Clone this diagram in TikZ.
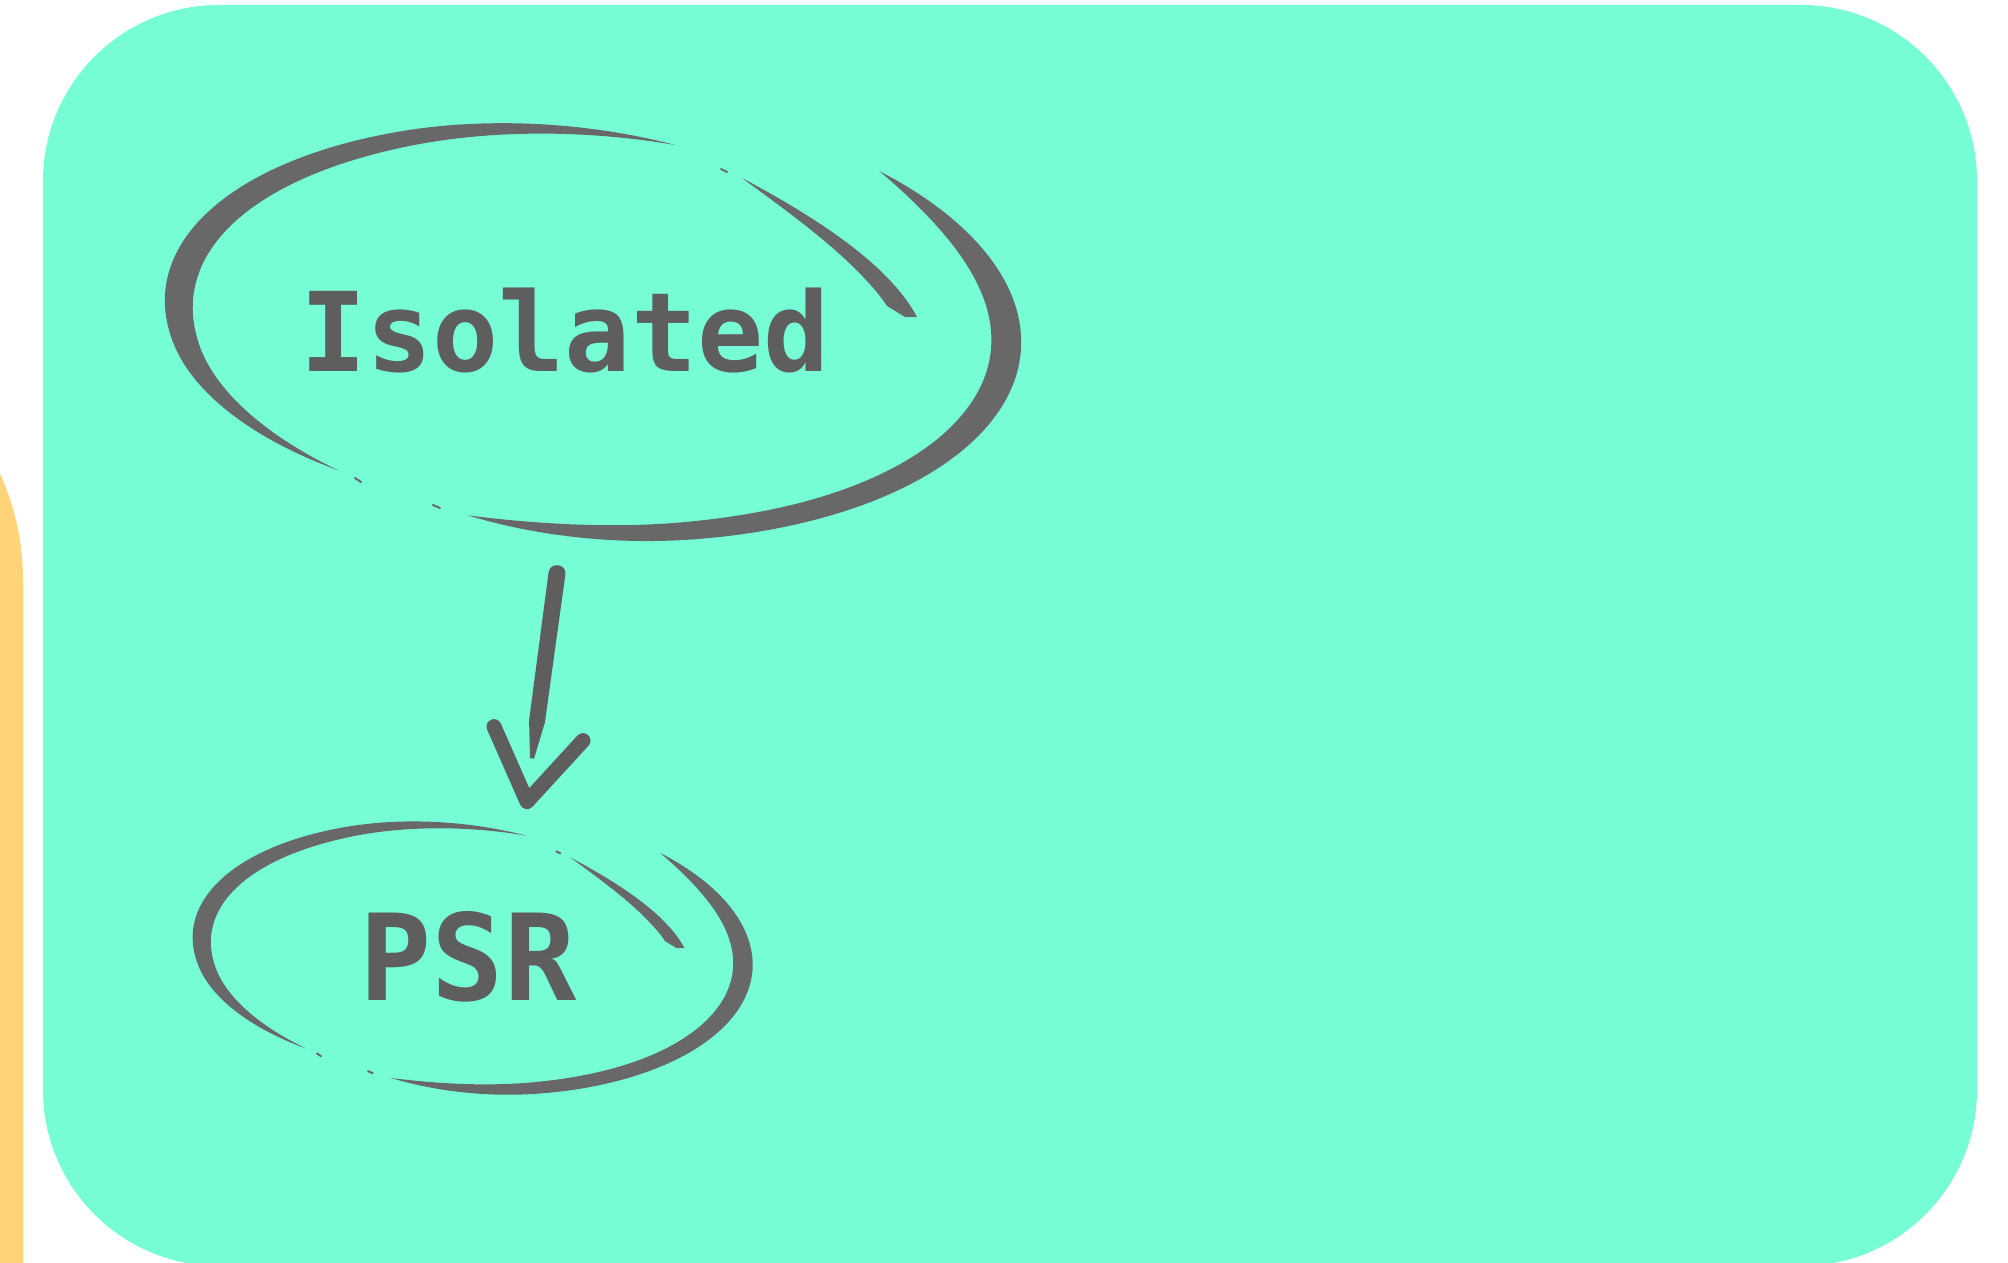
\documentclass[tikz,border=0pt]{standalone}
\usepackage{fontspec}
\newfontfamily\handfont{DejaVu Sans Mono}
\usetikzlibrary{calc,shapes.geometric}

\definecolor{mint}{RGB}{118,253,214}
\definecolor{amber}{RGB}{255,212,121}
\definecolor{ink}{RGB}{94,94,94}
\definecolor{ringgray}{RGB}{104,104,104}

\tikzset{
  % hand-drawn ring around (0,0): two tapered brush strokes and an inner hook
  pics/sketchring/.style={code={
    % left and top stroke
    \fill[ringgray]
      plot[domain=126:278.4, samples=100, variable=\q]
        ({3+ex(\q,axo(\q),bxo(\q),6)}, {3+ey(\q,axo(\q),bxo(\q),6)})
      -- plot[domain=278.4:126, samples=100, variable=\q]
        ({3+ex(\q,axi(\q),bxi(\q),6)}, {3+ey(\q,axi(\q),bxi(\q),6)})
      -- cycle;
    % right and bottom stroke
    \fill[ringgray]
      plot[domain=310:465.5, samples=100, variable=\q]
        ({ex(\q,cao(\q),cbo(\q),4)}, {-12+ey(\q,cao(\q),cbo(\q),4)})
      -- plot[domain=465.5:310, samples=100, variable=\q]
        ({ex(\q,cai(\q),cbi(\q),4)}, {-12+ey(\q,cai(\q),cbi(\q),4)})
      -- cycle;
    % inner hook
    \fill[ringgray] (150,-154) .. controls (210,-122) and (295,-72) .. (325,-15)
      -- (313,-15) -- (295,-26) -- (291,-32)
      .. controls (256,-78) and (196,-120) .. (150,-154) -- cycle;
    % specks left in the gaps
    \draw[ringgray, line width=1pt, line cap=round]
      (-237,146) -- (-231,150) (-159,173) -- (-152,176) (129,-163) -- (135,-160);
  }},
  label/.style={text=ink, inner sep=0pt, anchor=base},
  hidden/.style={ellipse, inner sep=0pt}
}

\begin{document}
\begin{tikzpicture}[x=0.5pt, y=-0.5pt,
  declare function={
    tp(\pos)=sin(180*\pos)*(1.6-0.6*sin(180*\pos));
    tc(\pos)=1-(1-sin(180*\pos))^3;
    rA(\pos)=1-0.05*(max(0,abs(2*\pos-1)-0.5)/0.5)^2;
    rC(\pos)=1-0.04*(max(0,\pos-0.8)/0.2)^2;
    ex(\ang,\ra,\rb,\tilt)=\ra*cos(\ang)*cos(\tilt)-\rb*sin(\ang)*sin(\tilt);
    ey(\ang,\ra,\rb,\tilt)=\ra*cos(\ang)*sin(\tilt)+\rb*sin(\ang)*cos(\tilt);
    uA(\ang)=(\ang-126)/152.4;
    uC(\ang)=(\ang-310)/155.5;
    axo(\ang)=432*rA(uA(\ang));
    bxo(\ang)=210*rA(uA(\ang));
    axi(\ang)=axo(\ang)-30*tp(uA(\ang));
    bxi(\ang)=bxo(\ang)-18*tp(uA(\ang));
    cao(\ang)=430*rC(uC(\ang));
    cbo(\ang)=220*rC(uC(\ang));
    cai(\ang)=cao(\ang)-30*tc(uC(\ang));
    cbi(\ang)=cbo(\ang)-19*tc(uC(\ang));
  }]
  \useasboundingbox (0,0) rectangle (2008,1263);
  \clip (0,0) rectangle (2008,1263);
  \fill[white] (0,0) rectangle (2008,1263);

  % neighbouring panel peeking in at the left
  \fill[amber, rounded corners=128pt] (-600,324) rectangle (23,1700);
  % main panel
  \fill[mint, rounded corners=88pt] (43,5) rectangle (1977,1266);

  % states
  \node (iso) [hidden, minimum width=430pt, minimum height=208pt] at (592,332) {};
  \node (psr) [hidden, minimum width=281pt, minimum height=136pt] at (472,958) {};

  \pic at (iso.center) {sketchring};
  \pic[scale=0.654] at (psr.center) {sketchring};

  \node (isoLabel) [label, font={\handfont\bfseries\fontsize{55pt}{55pt}\selectfont}] at (565,371) {Isolated};
  \node (psrLabel) [label, font={\handfont\bfseries\fontsize{60pt}{60pt}\selectfont}] at (468,1000) {PSR};

  % transition arrow: brush shaft and a V-shaped head
  \coordinate (shaftTop) at ($(iso.south)+(-35,33)$);
  \coordinate (tip) at ($(psr.north)+(55,-20)$);
  \coordinate (barbL) at ($(tip)+(-33,-75)$);
  \coordinate (barbR) at ($(tip)+(56,-61)$);

  \fill[ink] ($(shaftTop)+(-8.4,-1.1)$) -- ($(shaftTop)+(-27.9,146.9)$) -- ($(shaftTop)+(-27,184.7)$)
    -- ($(shaftTop)+(-23,185.3)$) -- ($(shaftTop)+(-12.1,149.1)$) -- ($(shaftTop)+(8.4,1.1)$)
    .. controls ($(shaftTop)+(9.9,-9.8)$) and ($(shaftTop)+(-6.9,-12)$) .. ($(shaftTop)+(-8.4,-1.1)$) -- cycle;
  \draw[ink, line width=7.5pt, line cap=round, line join=round] (barbL) -- (tip) -- (barbR);
\end{tikzpicture}
\end{document}
